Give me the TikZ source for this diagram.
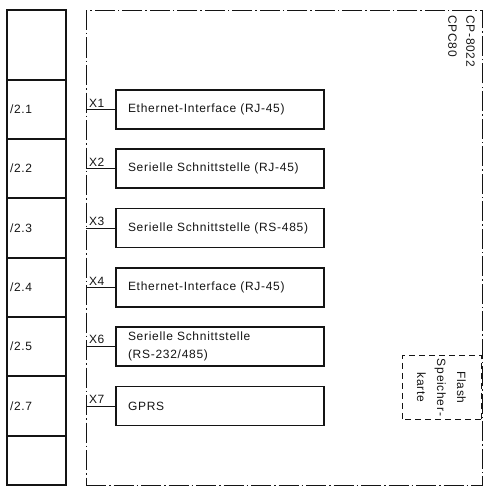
\documentclass[tikz,border=0pt]{standalone}
\usepackage{fontspec}
\setmainfont{Liberation Sans}[LetterSpace=6]
\usetikzlibrary{positioning,calc}
\definecolor{planInk}{HTML}{141414}

\begin{document}
\begin{tikzpicture}[x=1pt,y=-1pt,
          font=\fontsize{12}{18}\selectfont, text=planInk,
          cell/.style={draw=planInk,line width=1.2pt,outer sep=0pt,minimum width=59pt,
                      text width=53pt,inner xsep=3pt,align=left},
          iface/.style={draw=planInk,line width=1.2pt,outer sep=0pt,minimum height=39pt,
                      text width=184pt,inner xsep=12pt,align=left},
          frame/.style={draw=planInk,line width=1pt,outer sep=0pt,
                      dash pattern=on 20pt off 3pt on 1.5pt off 3pt},
          flash/.style={draw=planInk,line width=1pt,dash pattern=on 6pt off 4pt,
                      align=center,font=\fontsize{12}{20}\selectfont},
          wire/.style={draw=planInk,line width=1pt},
          tag/.style={pos=0,anchor=south west,inner xsep=2.5pt,inner ysep=2pt}]
        \useasboundingbox (0,0) rectangle (494,495);
        \node[cell,minimum height=70pt,anchor=north west] (c0) at (7,10) {};
        \node[cell,minimum height=59pt,below=0pt of c0] (c1) {/2.1};
        \node[cell,minimum height=59pt,below=0pt of c1] (c2) {/2.2};
        \node[cell,minimum height=60pt,below=0pt of c2] (c3) {/2.3};
        \node[cell,minimum height=59pt,below=0pt of c3] (c4) {/2.4};
        \node[cell,minimum height=59pt,below=0pt of c4] (c5) {/2.5};
        \node[cell,minimum height=60pt,below=0pt of c5] (c7) {/2.7};
        \node[cell,minimum height=49pt,below=0pt of c7] (c8) {};
        \node[frame,anchor=north west,minimum width=396pt,minimum height=474pt] (cpu) at (86,11) {};
        \node[rotate=-90,anchor=north west,align=left,inner sep=0pt] (type)
              at ($(cpu.north east)+(-7,4)$) {CP-8022\\CPC80};
        \node[iface,right=50pt of c1] (x1) {Ethernet-Interface (RJ-45)};
        \node[iface,right=50pt of c2] (x2) {Serielle Schnittstelle (RJ-45)};
        \node[iface,right=50pt of c3] (x3) {Serielle Schnittstelle (RS-485)};
        \node[iface,right=50pt of c4] (x4) {Ethernet-Interface (RJ-45)};
        \node[iface,right=50pt of c5] (x6) {Serielle Schnittstelle\\(RS-232/485)};
        \node[iface,right=50pt of c7] (x7) {GPRS};
        \node[flash,rotate=-90,minimum width=59pt,minimum height=79pt] (card)
              at (441.5,387.5) {Flash\\Speicher-\\karte};
        \draw[wire] (cpu.west |- x1.west) -- node[tag]{X1} (x1.west);
        \draw[wire] (cpu.west |- x2.west) -- node[tag]{X2} (x2.west);
        \draw[wire] (cpu.west |- x3.west) -- node[tag]{X3} (x3.west);
        \draw[wire] (cpu.west |- x4.west) -- node[tag]{X4} (x4.west);
        \draw[wire] (cpu.west |- x6.west) -- node[tag]{X6} (x6.west);
        \draw[wire] (cpu.west |- x7.west) -- node[tag]{X7} (x7.west);
      \end{tikzpicture}
\end{document}
